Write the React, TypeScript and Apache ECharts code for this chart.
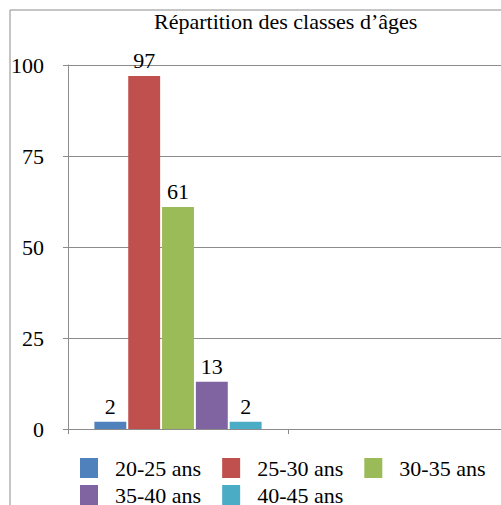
import React, { useEffect, useRef } from "react";
import * as echarts from "echarts";

const categories = ["Classes", ""];
const seriesNames = ["20-25 ans", "25-30 ans", "30-35 ans", "35-40 ans", "40-45 ans"];
const seriesValues = [2, 97, 61, 13, 2];
const colors = ["#4F81BD", "#C0504D", "#9BBB59", "#8064A2", "#4BACC6"];
const yTicks = { min: 0, max: 100, interval: 25 };

const FONT = "serif";

export default function App() {
  const ref = useRef<HTMLDivElement>(null);
  useEffect(() => {
    if (!ref.current) return;
    const chart = echarts.init(ref.current, null, { renderer: "svg" });
    chart.setOption({
      animation: false,
      backgroundColor: "#ffffff",
      textStyle: { fontFamily: FONT },
      title: {
        text: "Répartition des classes d’âges",
        left: 154,
        top: 10,
        padding: 0,
        textStyle: { fontFamily: FONT, fontSize: 22, fontWeight: "normal", color: "#000" },
      },
      graphic: [
        {
          type: "rect",
          shape: { x: 10, y: 10, width: 600, height: 600 },
          style: { fill: "none", stroke: "#8c8c8c", lineWidth: 1 },
          silent: true,
        },
      ],
      legend: [
        {
          data: seriesNames.slice(0, 3),
          left: 80,
          top: 457,
          padding: 0,
          itemWidth: 18,
          itemHeight: 20,
          itemGap: 21,
          icon: "rect",
          textStyle: { fontFamily: FONT, fontSize: 22, color: "#000", padding: [0, 0, 0, 12] },
        },
        {
          data: seriesNames.slice(3),
          left: 80,
          top: 484,
          padding: 0,
          itemWidth: 18,
          itemHeight: 20,
          itemGap: 21,
          icon: "rect",
          textStyle: { fontFamily: FONT, fontSize: 22, color: "#000", padding: [0, 0, 0, 12] },
        },
      ],
      grid: { left: 68, top: 65, width: 440, height: 364, containLabel: false },
      xAxis: {
        type: "category",
        data: categories,
        boundaryGap: true,
        axisLine: { lineStyle: { color: "#8c8c8c" } },
        axisTick: { show: true, length: 5, lineStyle: { color: "#8c8c8c" } },
        axisLabel: { show: false },
      },
      yAxis: {
        type: "value",
        min: yTicks.min,
        max: yTicks.max,
        interval: yTicks.interval,
        axisLine: { show: true, lineStyle: { color: "#8c8c8c" } },
        axisTick: { show: true, length: 5, lineStyle: { color: "#8c8c8c" } },
        axisLabel: { margin: 24, fontFamily: FONT, fontSize: 22, color: "#000" },
        splitLine: { show: true, lineStyle: { color: "#8c8c8c" } },
      },
      series: seriesNames.map((name, i) => ({
        name,
        type: "bar",
        data: [seriesValues[i], null],
        barCategoryGap: "24%",
        barGap: "6%",
        itemStyle: { color: colors[i] },
        label: {
          show: true,
          position: "top",
          distance: 4,
          fontFamily: FONT,
          fontSize: 22,
          color: "#000",
        },
      })),
    });
    return () => chart.dispose();
  }, []);
  return (
    <div style={{ position: "fixed", left: 0, top: 0, width: 501, height: 505, overflow: "hidden", background: "#fff" }}>
      <div ref={ref} style={{ width: 520, height: 505 }} />
    </div>
  );
}
